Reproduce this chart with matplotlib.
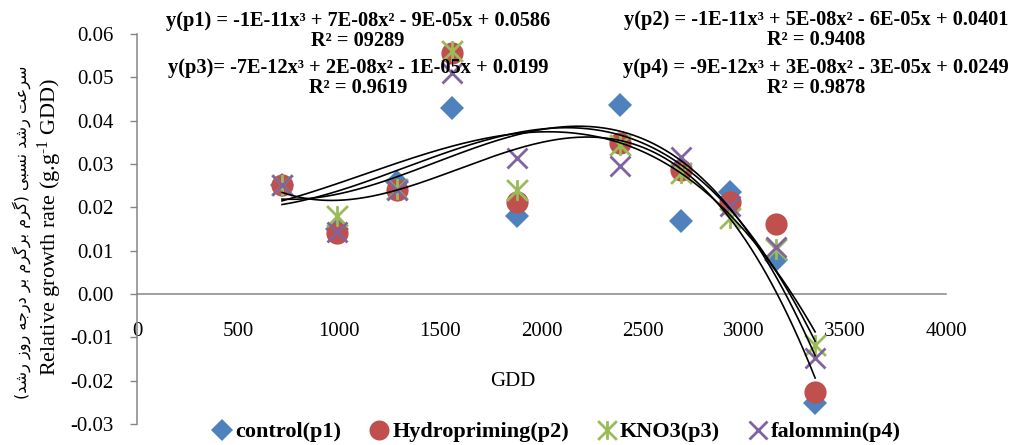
import numpy as np
import matplotlib
matplotlib.use("Agg")
import matplotlib.pyplot as plt
from matplotlib.path import Path
from matplotlib.ticker import FormatStrFormatter, MultipleLocator

# ------------------------------------------------------------------
# Data: relative growth rate vs growing degree days
# ------------------------------------------------------------------
gdd = [717, 989, 1284, 1557, 1878, 2389, 2689, 2933, 3160, 3353]

control  = [0.0252, 0.0150, 0.0258, 0.0429, 0.0179, 0.0436, 0.0169, 0.0236, 0.0079, -0.0252]
hydro    = [0.0252, 0.0140, 0.0240, 0.0556, 0.0213, 0.0348, 0.0286, 0.0213, 0.0161, -0.0226]
kno3     = [0.0252, 0.0179, 0.0242, 0.0560, 0.0240, 0.0344, 0.0280, 0.0176, 0.0104, -0.0118]
falommin = [0.0252, 0.0144, 0.0240, 0.0510, 0.0313, 0.0296, 0.0317, 0.0202, 0.0109, -0.0148]

labels = ["control(p1)", "Hydropriming(p2)", "KNO3(p3)", "falommin(p4)"]
colors = ["#4F81BD", "#C0504D", "#9BBB59", "#8064A2"]

eq_left = [
    "y(p1) = -1E-11x³ + 7E-08x² - 9E-05x + 0.0586\nR² = 09289",
    "y(p3)= -7E-12x³ + 2E-08x² - 1E-05x + 0.0199\nR² = 0.9619",
]
eq_right = [
    "y(p2) = -1E-11x³ + 5E-08x² - 6E-05x + 0.0401\nR² = 0.9408",
    "y(p4) = -9E-12x³ + 3E-08x² - 3E-05x + 0.0249\nR² = 0.9878",
]

ylabel_en = r"Relative growth rate (g.g$^{\text{-}1}$ GDD)"
ylabel_fa = "سرعت رشد نسبی (گرم برگرم بر درجه روز رشد)"


# ------------------------------------------------------------------
# Minimal Arabic-script shaping (matplotlib has no bidi / joining)
# ------------------------------------------------------------------
FORMS = {
    "س": (0xFEB1, 0xFEB2, 0xFEB3, 0xFEB4),
    "ش": (0xFEB5, 0xFEB6, 0xFEB7, 0xFEB8),
    "ع": (0xFEC9, 0xFECA, 0xFECB, 0xFECC),
    "ت": (0xFE95, 0xFE96, 0xFE97, 0xFE98),
    "ن": (0xFEE5, 0xFEE6, 0xFEE7, 0xFEE8),
    "ب": (0xFE8F, 0xFE90, 0xFE91, 0xFE92),
    "م": (0xFEE1, 0xFEE2, 0xFEE3, 0xFEE4),
    "ج": (0xFE9D, 0xFE9E, 0xFE9F, 0xFEA0),
    "ه": (0xFEE9, 0xFEEA, 0xFEEB, 0xFEEC),
    "گ": (0xFB92, 0xFB93, 0xFB94, 0xFB95),
    "ی": (0xFEEF, 0xFEF0, 0xFEF3, 0xFEF4),
    "ر": (0xFEAD, 0xFEAE, None, None),
    "ز": (0xFEAF, 0xFEB0, None, None),
    "د": (0xFEA9, 0xFEAA, None, None),
    "و": (0xFEED, 0xFEEE, None, None),
}


def shape_rtl(text):
    out = []
    for i, ch in enumerate(text):
        if ch not in FORMS:
            out.append(ch)
            continue
        prev = text[i - 1] if i > 0 else ""
        nxt = text[i + 1] if i + 1 < len(text) else ""
        join_prev = prev in FORMS and FORMS[prev][2] is not None
        join_next = nxt in FORMS and FORMS[ch][2] is not None
        iso, fin, ini, med = FORMS[ch]
        if join_prev and join_next:
            code = med
        elif join_prev:
            code = fin
        elif join_next:
            code = ini
        else:
            code = iso
        out.append(chr(code))
    visual = "".join(reversed(out))
    return visual.translate(str.maketrans({"(": ")", ")": "("}))


# ------------------------------------------------------------------
# Plot
# ------------------------------------------------------------------
plt.rcParams["font.family"] = ["Liberation Serif", "DejaVu Serif"]
plt.rcParams["axes.unicode_minus"] = False
plt.rcParams["mathtext.fontset"] = "custom"
plt.rcParams["mathtext.rm"] = "Liberation Serif"
plt.rcParams["mathtext.it"] = "Liberation Serif:italic"
plt.rcParams["mathtext.bf"] = "Liberation Serif:bold"

star = Path([(-1, -1), (1, 1), (-1, 1), (1, -1), (0, -1), (0, 1)],
            [Path.MOVETO, Path.LINETO, Path.MOVETO, Path.LINETO, Path.MOVETO, Path.LINETO])

fig = plt.figure(figsize=(10.27, 4.45), dpi=100)
ax = fig.add_axes([0.1334, 0.0472, 0.7877, 0.8764])

series = [control, hydro, kno3, falommin]
styles = [
    dict(marker="D", ms=12.5, mew=0),
    dict(marker="o", ms=16, mew=0),
    dict(marker=star, ms=15, mew=2, fillstyle="none"),
    dict(marker="x", ms=15, mew=2),
]

handles = []
for vals, col, st, lab in zip(series, colors, styles, labels):
    h, = ax.plot(gdd, vals, ls="none", color=col, label=lab, zorder=3, **st)
    handles.append(h)

# cubic trend lines fitted to each series
xs = np.linspace(min(gdd), max(gdd), 300)
for vals in series:
    coef = np.polyfit(gdd, vals, 3)
    ax.plot(xs, np.polyval(coef, xs), color="black", lw=1.2, zorder=4)

ax.set_xlim(0, 4000)
ax.set_ylim(-0.03, 0.06)
ax.xaxis.set_major_locator(MultipleLocator(500))
ax.yaxis.set_major_locator(MultipleLocator(0.01))
ax.yaxis.set_major_formatter(FormatStrFormatter("%.2f"))

for s in ["top", "right"]:
    ax.spines[s].set_visible(False)
ax.spines["bottom"].set_position(("data", 0))
for s in ["left", "bottom"]:
    ax.spines[s].set_color("#868686")
    ax.spines[s].set_linewidth(1.1)

ax.tick_params(axis="y", direction="out", length=5, width=1, color="#868686",
               labelsize=15, pad=12)
ax.tick_params(axis="x", length=0, labelsize=15, pad=20)

# equations + R² as in the spreadsheet trendline labels
for i, txt in enumerate(eq_left):
    fig.text(358 / 1027, 1 - (31 + 47 * i) / 445, txt, ha="center", va="center",
             fontsize=14.7, fontweight="bold", linespacing=1.05)
for i, txt in enumerate(eq_right):
    fig.text(816 / 1027, 1 - (30 + 48 * i) / 445, txt, ha="center", va="center",
             fontsize=14.7, fontweight="bold", linespacing=1.05)

fig.text(513 / 1027, 1 - 381 / 445, "GDD", ha="center", va="center", fontsize=15)
fig.text(50 / 1027, 1 - 227 / 445, ylabel_en, ha="center", va="center",
         rotation=90, fontsize=16)
fig.text(22 / 1027, 1 - 232 / 445, shape_rtl(ylabel_fa), ha="center", va="center",
         rotation=90, fontsize=11.5, family=["DejaVu Sans"])

fig.legend(handles=handles, loc="center", bbox_to_anchor=(557 / 1027, 1 - 432 / 445),
           ncol=4, frameon=False, handlelength=0.8, handletextpad=0.2,
           columnspacing=1.3, prop=dict(size=16, weight="bold"), markerscale=0.9)

fig.savefig("out.png", dpi=100)
